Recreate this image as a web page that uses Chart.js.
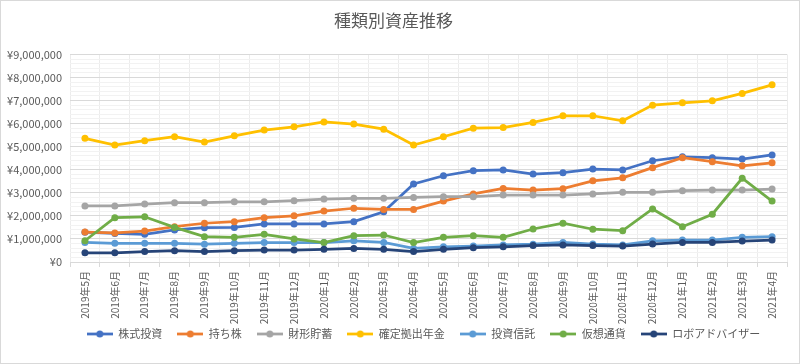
<!DOCTYPE html>
<html>
<head>
<meta charset="utf-8">
<script src="https://cdn.jsdelivr.net/npm/chart.js@4"></script>
<style>
  html, body { margin: 0; padding: 0; background: #fff; }
  #wrap { width: 800px; height: 364px; }
</style>
</head>
<body>
<div id="wrap"><canvas id="assetChart"></canvas></div>
<script>
const months = ['2019年5月','2019年6月','2019年7月','2019年8月','2019年9月','2019年10月','2019年11月','2019年12月',
  '2020年1月','2020年2月','2020年3月','2020年4月','2020年5月','2020年6月','2020年7月','2020年8月',
  '2020年9月','2020年10月','2020年11月','2020年12月','2021年1月','2021年2月','2021年3月','2021年4月'];

const kabushiki = [1290000,1240000,1200000,1390000,1490000,1500000,1650000,1650000,1650000,1750000,2180000,3380000,
  3740000,3960000,3990000,3810000,3870000,4030000,3990000,4390000,4560000,4520000,4460000,4640000];
const mochikabu = [1300000,1260000,1340000,1530000,1680000,1750000,1920000,2000000,2210000,2330000,2280000,2280000,
  2640000,2950000,3190000,3120000,3180000,3520000,3650000,4090000,4520000,4350000,4170000,4300000];
const zaikei = [2430000,2430000,2510000,2570000,2570000,2610000,2610000,2660000,2730000,2760000,2760000,2800000,
  2830000,2830000,2900000,2900000,2900000,2950000,3020000,3020000,3090000,3120000,3120000,3160000];
const kakutei = [5360000,5070000,5260000,5430000,5200000,5470000,5720000,5860000,6070000,5980000,5760000,5070000,
  5430000,5800000,5830000,6050000,6340000,6340000,6120000,6800000,6900000,6990000,7310000,7680000];
const toushin = [850000,810000,810000,810000,770000,810000,840000,840000,840000,920000,850000,590000,
  660000,690000,740000,770000,850000,780000,740000,920000,950000,950000,1070000,1100000];
const kasou = [920000,1920000,1960000,1500000,1100000,1070000,1200000,1000000,840000,1140000,1170000,840000,
  1070000,1140000,1070000,1430000,1680000,1420000,1360000,2300000,1530000,2070000,3630000,2640000];
const robo = [400000,400000,450000,490000,450000,490000,520000,520000,550000,590000,550000,450000,
  550000,620000,660000,710000,740000,710000,690000,780000,850000,850000,910000,950000];

const seriesNames = ['株式投資','持ち株','財形貯蓄','確定拠出年金','投資信託','仮想通貨','ロボアドバイザー'];
const seriesData = [kabushiki, mochikabu, zaikei, kakutei, toushin, kasou, robo];
const seriesColors = ['#4472C4','#ED7D31','#A5A5A5','#FFC000','#5B9BD5','#70AD47','#264478'];

const FONT = '"Noto Sans CJK JP", "Noto Sans", sans-serif';
const TEXT = '#595959';

// line + dot marker for the legend
function legendMarker(color) {
  const c = document.createElement('canvas');
  c.width = 26; c.height = 10;
  const ctx = c.getContext('2d');
  ctx.strokeStyle = color;
  ctx.lineWidth = 2.75;
  ctx.beginPath(); ctx.moveTo(0, 5); ctx.lineTo(26, 5); ctx.stroke();
  ctx.fillStyle = color;
  ctx.beginPath(); ctx.arc(13, 5, 3.5, 0, Math.PI * 2); ctx.fill();
  return c;
}

const framePlugin = {
  id: 'frame',
  afterLayout(chart) {
    // nudge the legend to where the original sits
    const lg = chart.legend;
    lg.left += 30; lg.right += 30;
    lg.top -= 12.5; lg.bottom -= 12.5;
  },
  afterDraw(chart) {
    const ctx = chart.ctx;
    ctx.save();
    ctx.strokeStyle = '#d9d9d9';
    ctx.lineWidth = 1;
    ctx.strokeRect(0.5, 0.5, chart.width - 1, chart.height - 1);
    ctx.restore();
  }
};

const datasets = seriesNames.map((name, i) => ({
  label: name,
  data: seriesData[i],
  borderColor: seriesColors[i],
  backgroundColor: seriesColors[i],
  borderWidth: 2.75,
  pointRadius: 3.5,
  pointBorderWidth: 0,
  pointHoverRadius: 3.5,
  tension: 0,
  order: seriesNames.length - i
}));

new Chart(document.getElementById('assetChart'), {
  type: 'line',
  data: { labels: months, datasets: datasets },
  plugins: [framePlugin],
  options: {
    responsive: true,
    maintainAspectRatio: false,
    animation: false,
    layout: { padding: { left: 0, right: 13, top: 0, bottom: 2 } },
    plugins: {
      tooltip: { enabled: false },
      title: {
        display: true,
        text: '種類別資産推移',
        color: TEXT,
        font: { family: FONT, size: 17, weight: 'normal' },
        padding: { top: 10, bottom: 24 }
      },
      legend: {
        position: 'bottom',
        labels: {
          color: TEXT,
          font: { family: FONT, size: 11 },
          usePointStyle: true,
          pointStyleWidth: 26,
          padding: 15,
          generateLabels(chart) {
            return chart.data.datasets.map((ds, i) => ({
              text: ds.label,
              fontColor: TEXT,
              pointStyle: legendMarker(ds.borderColor),
              datasetIndex: i,
              hidden: false,
              lineWidth: 0
            }));
          }
        }
      }
    },
    scales: {
      x: {
        offset: true,
        grid: { offset: true, color: '#ececec', tickColor: '#d9d9d9', tickLength: 5 },
        border: { color: '#d9d9d9' },
        ticks: {
          autoSkip: false,
          maxRotation: 90,
          minRotation: 90,
          padding: 4,
          color: TEXT,
          font: { family: FONT, size: 10 }
        },
        afterFit(scale) { scale.height = 64; }
      },
      y: {
        min: 0,
        max: 9000000,
        border: { display: false },
        grid: {
          drawTicks: false,
          color(ctx) {
            return ctx.tick && ctx.tick.value % 1000000 === 0 ? '#d9d9d9' : '#f2f2f2';
          }
        },
        ticks: {
          stepSize: 200000,
          maxTicksLimit: 60,
          autoSkip: false,
          padding: 8,
          color: TEXT,
          font: { family: FONT, size: 11 },
          callback(v) {
            return v % 1000000 === 0 ? '¥' + v.toLocaleString('en-US') : '';
          }
        },
        afterFit(scale) { scale.width = 70; }
      }
    }
  }
});
</script>
</body>
</html>
